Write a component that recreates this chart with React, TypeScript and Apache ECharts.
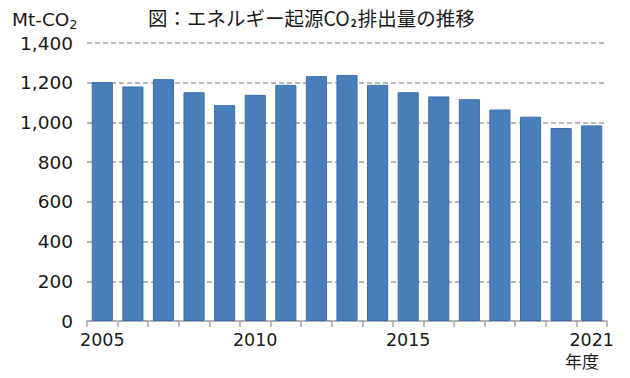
import React, { useEffect, useRef } from "react";
import * as echarts from "echarts";

const years = ["2005","2006","2007","2008","2009","2010","2011","2012","2013","2014","2015","2016","2017","2018","2019","2020","2021"];
const emissions = [1203, 1181, 1218, 1152, 1087, 1139, 1189, 1233, 1239, 1189, 1152, 1131, 1117, 1065, 1029, 972, 985];
const shownYearIdx = [0, 5, 10, 16];
const yTicks = { min: 0, max: 1400, interval: 200 };

export default function App() {
  const ref = useRef<HTMLDivElement>(null);
  useEffect(() => {
    if (!ref.current) return;
    const chart = echarts.init(ref.current, null, { renderer: "svg" });
    const latin = "DejaVu Sans";
    const cjk = "Noto Sans CJK JP";
    chart.setOption({
      animation: false,
      backgroundColor: "#ffffff",
      title: {
        text: "{a|図：エネルギー起源CO}{s|2}{a|排出量の推移}",
        left: 143,
        top: 3,
        textStyle: {
          rich: {
            a: { fontFamily: cjk, fontSize: 19.5, color: "#1a1a1a", fontWeight: "normal" },
            s: { fontFamily: cjk, fontSize: 10, color: "#1a1a1a", verticalAlign: "bottom", padding: [9, 1, 0, 1] },
          },
        },
      },
      graphic: [
        {
          type: "text",
          left: 12,
          top: 10,
          style: {
            text: "{a|Mt-CO}{s|2}",
            rich: {
              a: { fontFamily: latin, fontSize: 18.5, fill: "#1a1a1a" },
              s: { fontFamily: latin, fontSize: 13, fill: "#1a1a1a", padding: [9, 0, 0, 0] },
            },
          },
        },
        {
          type: "text",
          left: 565,
          top: 352,
          style: { text: "年度", fontFamily: cjk, fontSize: 17, fill: "#1a1a1a" },
        },
      ],
      grid: { left: 87, right: 23, top: 43, bottom: 57, containLabel: false },
      xAxis: {
        type: "category",
        data: years,
        boundaryGap: true,
        axisLine: { show: true, lineStyle: { color: "#a6a6a6", width: 1.5 } },
        axisTick: { show: true, interval: 0, length: 6, alignWithLabel: false, lineStyle: { color: "#a6a6a6", width: 1.5 } },
        axisLabel: {
          interval: (i: number) => shownYearIdx.includes(i),
          fontFamily: latin,
          fontSize: 17.5,
          color: "#1a1a1a",
          margin: 10,
        },
        splitLine: { show: false },
      },
      yAxis: {
        type: "value",
        min: yTicks.min,
        max: yTicks.max,
        interval: yTicks.interval,
        axisLine: { show: false },
        axisTick: { show: false },
        axisLabel: {
          fontFamily: latin,
          fontSize: 18.5,
          color: "#1a1a1a",
          margin: 14,
          formatter: (v: number) => v.toLocaleString("en-US"),
        },
        splitLine: { show: true, lineStyle: { color: "#a0a0a0", type: [5, 3], width: 1.5 } },
      },
      series: [
        {
          type: "bar",
          data: emissions,
          barCategoryGap: "31%",
          itemStyle: { color: "#4a7ebb", borderColor: "#3b6cad", borderWidth: 1 },
        },
      ],
    });
    return () => chart.dispose();
  }, []);
  return <div ref={ref} style={{ width: 630, height: 378, position: "absolute", left: 0, top: 0 }} />;
}
